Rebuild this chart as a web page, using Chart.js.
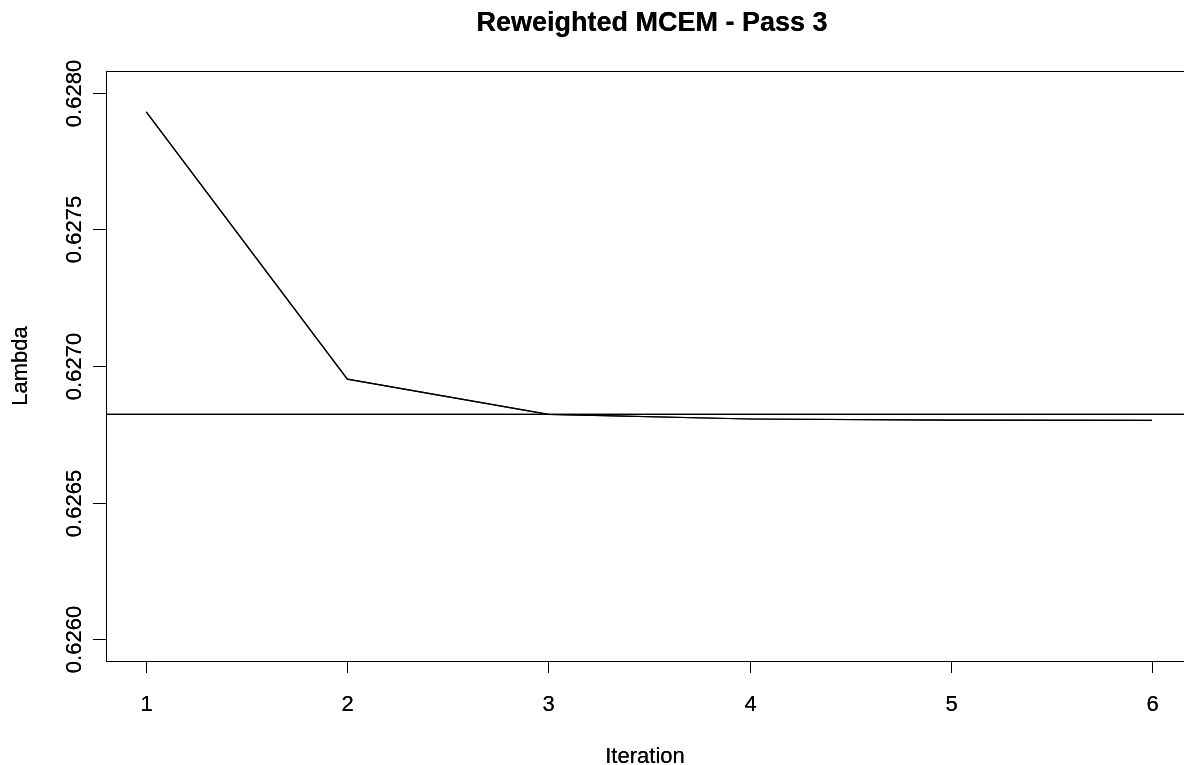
<!DOCTYPE html>
<html>
<head>
<meta charset="utf-8">
<title>Reweighted MCEM - Pass 3</title>
<script src="https://cdn.jsdelivr.net/npm/chart.js@4"></script>
<style>
    html, body { margin: 0; padding: 0; background: #fff; overflow: hidden; }
    #wrap { width: 1200px; height: 765px; }
</style>
</head>
<body>
<div id="wrap"><canvas id="grafico" width="1200" height="765"></canvas></div>
<script>
// data
const iteracoes = [1, 2, 3, 4, 5, 6];
const lambdas = [0.62793, 0.626952, 0.626823, 0.626806, 0.626802, 0.626801];
const lambdaRef = 0.626823;

const xTicks = [1, 2, 3, 4, 5, 6];
const yTicks = [0.6260, 0.6265, 0.6270, 0.6275, 0.6280];
const yTickLabels = ["0.6260", "0.6265", "0.6270", "0.6275", "0.6280"];

const titulo = "Reweighted MCEM - Pass 3";
const tituloX = "Iteration";
const tituloY = "Lambda";

const FONTE = "'Liberation Sans', Arial, sans-serif";

// =========================
// R-style frame, ticks and labels
// =========================
const eixosR = {
    id: "eixosR",
    afterDraw(chart) {
        const ctx = chart.ctx;
        const a = chart.chartArea;
        const sx = chart.scales.x;
        const sy = chart.scales.y;

        ctx.save();
        ctx.strokeStyle = "#000";
        ctx.fillStyle = "#000";
        ctx.lineWidth = 1;

        // box
        ctx.strokeRect(Math.round(a.left) + 0.5, Math.round(a.top) + 0.5,
            Math.round(a.right - a.left), Math.round(a.bottom - a.top));

        // x ticks
        ctx.font = "22px " + FONTE;
        ctx.textAlign = "center";
        ctx.textBaseline = "alphabetic";
        xTicks.forEach(v => {
            const px = Math.round(sx.getPixelForValue(v)) + 0.5;
            ctx.beginPath();
            ctx.moveTo(px, a.bottom);
            ctx.lineTo(px, a.bottom + 12);
            ctx.stroke();
            ctx.fillText(String(v), px, 711);
        });

        // y ticks
        yTicks.forEach((v, i) => {
            const py = Math.round(sy.getPixelForValue(v)) + 0.5;
            ctx.beginPath();
            ctx.moveTo(a.left, py);
            ctx.lineTo(a.left - 13, py);
            ctx.stroke();
            ctx.save();
            ctx.translate(81, py);
            ctx.rotate(-Math.PI / 2);
            ctx.fillText(yTickLabels[i], 0, 0);
            ctx.restore();
        });

        // axis titles
        ctx.fillText(tituloX, (a.left + a.right) / 2 - 4, 763);
        ctx.save();
        ctx.translate(27, (a.top + a.bottom) / 2);
        ctx.rotate(-Math.PI / 2);
        ctx.fillText(tituloY, 0, 0);
        ctx.restore();

        // main title
        ctx.font = "bold 27px " + FONTE;
        ctx.fillText(titulo, (a.left + a.right) / 2 + 3, 31);

        ctx.restore();
    }
};

new Chart(document.getElementById("grafico"), {
    type: "line",
    data: {
        datasets: [
            {
                data: iteracoes.map((x, i) => ({ x: x, y: lambdas[i] })),
                borderColor: "#000",
                borderWidth: 1.2,
                pointRadius: 0,
                tension: 0,
                fill: false
            },
            {
                // abline(h = lambdaRef) across the whole plot
                data: [],
                borderColor: "#000",
                borderWidth: 1.2,
                pointRadius: 0,
                fill: false
            }
        ]
    },
    options: {
        responsive: false,
        animation: false,
        events: [],
        layout: { padding: { top: 71, right: 8, left: 0, bottom: 0 } },
        plugins: {
            legend: { display: false },
            tooltip: { enabled: false },
            title: { display: false }
        },
        scales: {
            x: {
                type: "linear",
                min: 0.8,
                max: 6.2,
                ticks: { display: false },
                grid: { display: false },
                border: { display: false },
                afterFit(s) { s.height = 104; }
            },
            y: {
                type: "linear",
                min: 0.62592,
                max: 0.62808,
                ticks: { display: false },
                grid: { display: false },
                border: { display: false },
                afterFit(s) { s.width = 106; }
            }
        }
    },
    plugins: [eixosR, {
        id: "linhaRef",
        beforeDatasetsDraw(chart) {
            const ds = chart.data.datasets[1];
            if (ds.data.length === 0) {
                ds.data = [
                    { x: chart.scales.x.min, y: lambdaRef },
                    { x: chart.scales.x.max, y: lambdaRef }
                ];
                chart.update("none");
            }
        }
    }]
});
</script>
</body>
</html>
